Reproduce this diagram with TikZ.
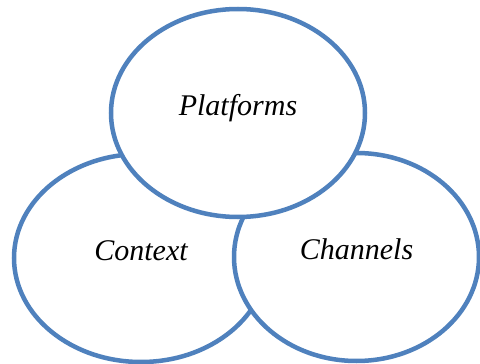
\documentclass[tikz,border=0pt]{standalone}
\usepackage{fontspec}
\setmainfont{Liberation Serif}
\usetikzlibrary{shapes.geometric}
\definecolor{ringblue}{HTML}{4F81BD}
\tikzset{
    ring/.style={ellipse, draw=ringblue, line width=4.5pt, fill=white, inner sep=0pt,
        font=\fontsize{30}{36}\selectfont\itshape, text height=16pt, text depth=12pt},
}
\begin{document}
\begin{tikzpicture}[x=1pt,y=-1pt]
        \useasboundingbox (0,0) rectangle (480,364);
        % bottom pair first, top one drawn over both
        \node [ring, minimum width=254pt, minimum height=208pt] (context) at (141,258) {Context};
        \node [ring, minimum width=245pt, minimum height=208pt] (channels) at (356.5,257) {Channels};
        \node [ring, minimum width=254pt, minimum height=208pt] (platforms) at (238,113) {Platforms};
    \end{tikzpicture}
\end{document}
